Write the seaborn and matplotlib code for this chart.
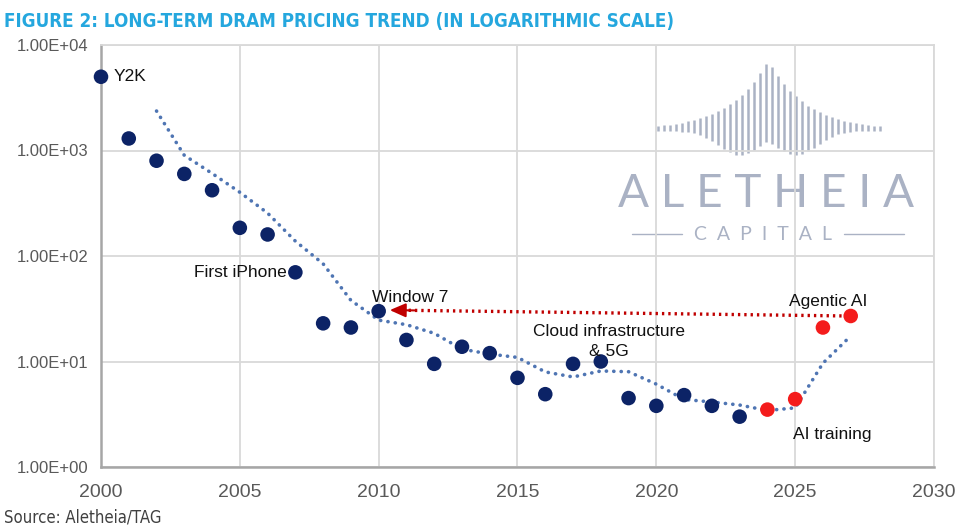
import numpy as np
import pandas as pd
import matplotlib.pyplot as plt
import seaborn as sns
from matplotlib.ticker import FuncFormatter

# DRAM price index (log scale)
years = list(range(2000, 2028))
prices = [5000, 1300, 800, 600, 420, 185, 160, 70, 23, 21, 30, 16, 9.5, 13.8,
          12, 7, 4.9, 9.5, 10, 4.5, 3.8, 4.8, 3.8, 3.0, 3.5, 4.4, 21, 27]
forecast_start = 2024

event_labels = ["Y2K", "First iPhone", "Window 7", "Cloud infrastructure\n& 5G",
                "Agentic AI", "AI training"]
label_x = [2000.45, 2006.7, 2011.15, 2018.3, 2026.2, 2026.35]
label_y = [5000, 70, 40, 15.5, 37, 2.05]
label_ha = ["left", "right", "center", "center", "center", "center"]

x_ticks = [2000, 2005, 2010, 2015, 2020, 2025, 2030]
y_ticks = [1, 10, 100, 1000, 10000]

df = pd.DataFrame({"year": years, "price": prices})
df["kind"] = np.where(df["year"] >= forecast_start, "ai", "hist")
# Excel-style 3 period moving average trendline
df["trend"] = df["price"].rolling(3).mean()

navy = "#0c2366"
red = "#f41c1c"
trend_col = "#4f75b3"
grid_col = "#d9d9d9"
axis_col = "#a6a6a6"

sns.set_theme(style="white")
plt.rcParams["font.family"] = ["Liberation Sans", "DejaVu Sans"]

fig = plt.figure(figsize=(9.66, 5.28), dpi=100)
fig.patch.set_facecolor("white")

# watermark layer in pixel coordinates, behind the chart
wm = fig.add_axes([0, 0, 1, 1], zorder=-1)
wm.set_xlim(0, 966)
wm.set_ylim(528, 0)
wm.axis("off")
logo_col = "#aab2c4"
for xb in np.arange(658, 881, 6):
    d = abs(xb - 768)
    top = 130 - 70 * np.exp(-d / 38)
    bot = 131 + 24 * np.exp(-((d - 28) / 30) ** 2)
    wm.plot([xb, xb], [top, bot], color=logo_col, lw=1.8, solid_capstyle="butt")
wm.text(766, 194, "A L E T H E I A", ha="center", va="center", fontsize=33,
        color=logo_col, family=["Lato", "DejaVu Sans"])
wm.text(763, 234, "C  A  P  I  T  A  L", ha="center", va="center", fontsize=14,
        color=logo_col, family=["Lato", "DejaVu Sans"])
wm.plot([632, 682], [234, 234], color=logo_col, lw=1)
wm.plot([844, 904], [234, 234], color=logo_col, lw=1)

ax = fig.add_axes([101 / 966, 1 - 467 / 528, 833 / 966, 422 / 528])
ax.set_facecolor("none")

sns.lineplot(data=df, x="year", y="trend", ax=ax, color=trend_col, lw=2.6,
             linestyle=(0, (0.05, 2.0)), dash_capstyle="round", zorder=2)
sns.scatterplot(data=df, x="year", y="price", hue="kind",
                palette={"hist": navy, "ai": red}, s=110, edgecolor="none",
                legend=False, ax=ax, zorder=3, clip_on=False)

# red dotted arrow from Agentic AI back to Windows 7 level
ax.plot([2026.9, 2010.9], [27, 30.6], color="#c00000", lw=2.4,
        linestyle=(0, (0.7, 1.2)), zorder=2)
ax.annotate("", xy=(2010.4, 30.7), xytext=(2011.3, 30.5),
            arrowprops=dict(arrowstyle="-|>,head_length=0.8,head_width=0.35",
                            color="#c00000", lw=1.5, shrinkA=0, shrinkB=0))

for txt, lx, ly, ha in zip(event_labels, label_x, label_y, label_ha):
    ax.text(lx, ly, txt, ha=ha, va="center", fontsize=12.5, color="#111111",
            linespacing=1.4, zorder=4)

ax.set_yscale("log")
ax.set_xlim(2000, 2030)
ax.set_ylim(1, 10000)
ax.set_xticks(x_ticks)
ax.set_yticks(y_ticks)
ax.minorticks_off()
ax.yaxis.set_major_formatter(FuncFormatter(lambda v, p: f"{v:.2E}"))
ax.set_xlabel("")
ax.set_ylabel("")
ax.grid(True, color=grid_col, lw=1.3)
ax.set_axisbelow(True)
for side in ["top", "right"]:
    ax.spines[side].set_color(grid_col)
    ax.spines[side].set_linewidth(1.3)
for side in ["left", "bottom"]:
    ax.spines[side].set_color(axis_col)
    ax.spines[side].set_linewidth(1.8)
ax.tick_params(axis="y", direction="out", length=5, width=1.5, color=axis_col,
               labelsize=12, labelcolor="#595959", pad=4)
ax.tick_params(axis="x", direction="out", length=6, width=1.5, color=axis_col,
               labelsize=14, labelcolor="#595959", pad=6)
for lab in ax.get_xticklabels() + ax.get_yticklabels():
    lab.set_family(["Liberation Sans", "DejaVu Sans"])

fig.text(4 / 966, 1 - 21 / 528,
         "FIGURE 2: LONG-TERM DRAM PRICING TREND (IN LOGARITHMIC SCALE)",
         ha="left", va="center", fontsize=13.5, fontweight="bold", color="#25a7de",
         family=["DejaVu Sans"], fontstretch="condensed")
fig.text(4 / 966, 1 - 518 / 528, "Source: Aletheia/TAG", ha="left", va="center",
         fontsize=12, color="#404040", family=["DejaVu Sans"], fontstretch="condensed")

fig.savefig("out.png", dpi=100)
